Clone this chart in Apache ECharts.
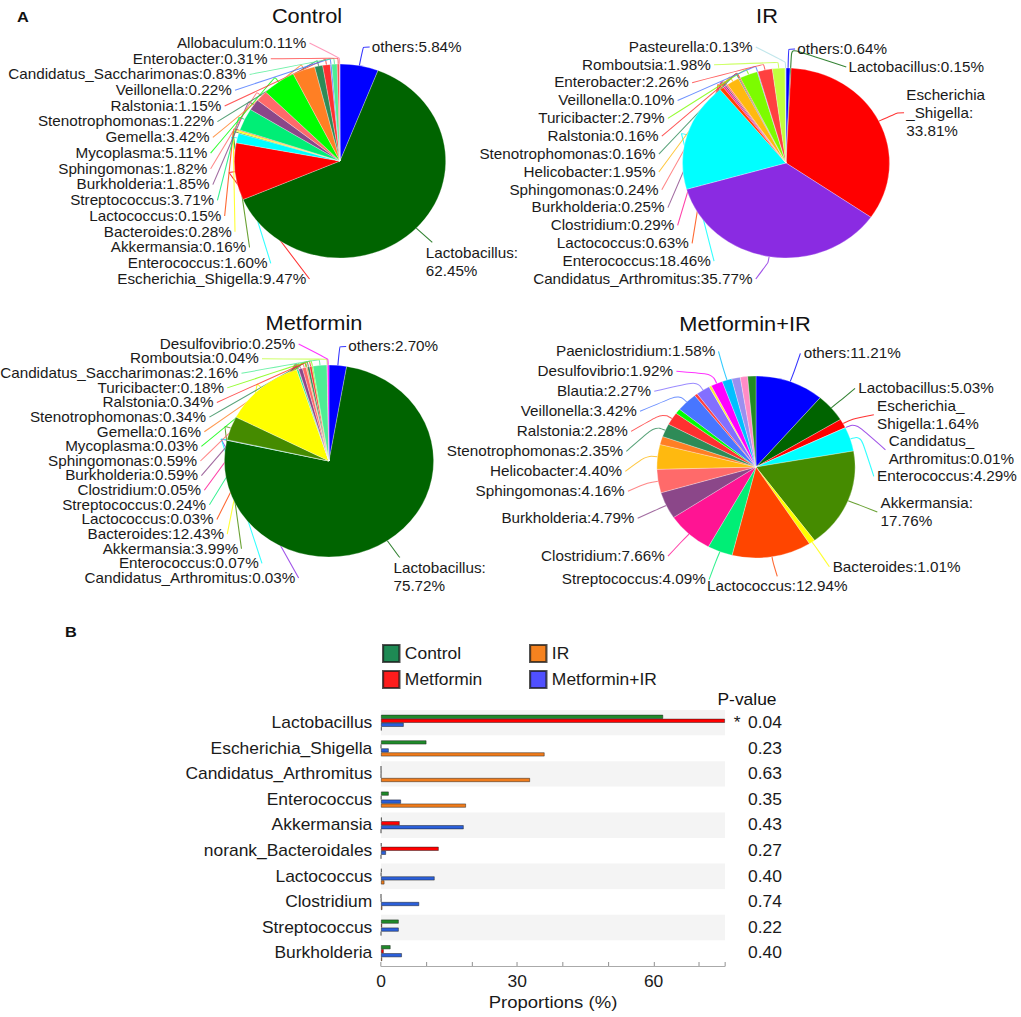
<!DOCTYPE html>
<html><head><meta charset="utf-8">
<script src="https://cdn.jsdelivr.net/npm/echarts/dist/echarts.min.js"></script>
<style>
html,body{margin:0;padding:0;background:#fff;overflow:hidden;}
#wrap{width:1021px;height:1017px;overflow:hidden;}
#c{width:937px;height:1017px;transform:scaleX(1.08965);transform-origin:0 0;}
</style></head><body><div id="wrap"><div id="c"></div></div>
<script>
// ---------------- DATA ----------------
const controlNames = ['others','Lactobacillus','Escherichia_Shigella','Enterococcus','Akkermansia','Bacteroides','Lactococcus','Streptococcus','Burkholderia','Sphingomonas','Mycoplasma','Gemella','Stenotrophomonas','Ralstonia','Veillonella','Candidatus_Saccharimonas','Enterobacter','Allobaculum'];
const controlValues = [5.84,62.45,9.47,1.60,0.16,0.28,0.15,3.71,1.85,1.82,5.11,3.42,1.22,1.15,0.22,0.83,0.31,0.11];

const irNames = ['others','Lactobacillus','Escherichia_Shigella','Candidatus_Arthromitus','Enterococcus','Lactococcus','Clostridium','Burkholderia','Sphingomonas','Helicobacter','Stenotrophomonas','Ralstonia','Turicibacter','Veillonella','Enterobacter','Romboutsia','Pasteurella'];
const irValues = [0.64,0.15,33.81,35.77,18.46,0.63,0.29,0.25,0.24,1.95,0.16,0.16,2.79,0.10,2.26,1.98,0.13];

const metNames = ['others','Lactobacillus','Candidatus_Arthromitus','Enterococcus','Akkermansia','Bacteroides','Lactococcus','Streptococcus','Clostridium','Burkholderia','Sphingomonas','Mycoplasma','Gemella','Stenotrophomonas','Ralstonia','Turicibacter','Candidatus_Saccharimonas','Romboutsia','Desulfovibrio'];
const metValues = [2.70,75.72,0.03,0.07,3.99,12.43,0.03,0.24,0.05,0.59,0.59,0.03,0.16,0.34,0.34,0.18,2.16,0.04,0.25];

const mirNames = ['others','Lactobacillus','Escherichia_Shigella','Candidatus_Arthromitus','Enterococcus','Akkermansia','Bacteroides','Lactococcus','Streptococcus','Clostridium','Burkholderia','Sphingomonas','Helicobacter','Gemella','Stenotrophomonas','Ralstonia','Mycoplasma','Veillonella','Enterobacter','Blautia','unlabeled_1','Desulfovibrio','Paeniclostridium','unlabeled_2','unlabeled_3','unlabeled_4'];
const mirValues = [11.21,5.03,1.64,0.01,4.29,17.76,1.01,12.94,4.09,7.66,4.79,4.16,4.40,1.45,2.35,2.28,0.90,3.42,0.50,2.27,0.40,1.92,1.58,1.40,1.20,1.34];
const mirUnlabeled = ['Gemella','Mycoplasma','Enterobacter','unlabeled_1','unlabeled_2','unlabeled_3','unlabeled_4'];

const barCategories = ['Lactobacillus','Escherichia_Shigella','Candidatus_Arthromitus','Enterococcus','Akkermansia','norank_Bacteroidales','Lactococcus','Clostridium','Streptococcus','Burkholderia'];
const barControl   = [62.1, 10.0, 0,    1.7,  0.16, 0.1,  0.15, 0,    3.9,  2.1];
const barMetformin = [75.7, 0,    0.03, 0.07, 4.1,  12.7, 0.03, 0.05, 0.24, 0.6];
const barMetIR     = [5.0,  1.7,  0.01, 4.4,  18.2, 1.1,  11.8, 8.4,  3.9,  4.6];
const barIR        = [0.15, 36.0, 32.8, 18.7, 0,    0,    0.75, 0.3,  0,    0.25];
const pValues = ['0.04','0.23','0.63','0.35','0.43','0.27','0.40','0.74','0.22','0.40'];
const pStars  = ['*','','','','','','','','',''];
const xTickLabels = [0, 30, 60];

// ---------------- STYLE ----------------
const W = 937, H = 1017;
const SX = 1021 / W;
const FONT = 'Liberation Sans, Arial, Helvetica, sans-serif';
const CFONT = "'Liberation Sans', Arial, Helvetica, sans-serif";
const LABEL_SIZE = 14;
const genusColor = {
  others:'#0000ff', Lactobacillus:'#006400', Escherichia_Shigella:'#ff0000', Enterococcus:'#00ffff',
  Candidatus_Arthromitus:'#8a2be2', Akkermansia:'#458b00', Bacteroides:'#ffff00', Lactococcus:'#ff4500',
  Streptococcus:'#00ee76', Clostridium:'#ff1493', Burkholderia:'#8b4789', Sphingomonas:'#ff6a6a',
  Helicobacter:'#ffb90f', Mycoplasma:'#00ff00', Gemella:'#ff7f24', Stenotrophomonas:'#2e8b57',
  Ralstonia:'#ff3030', Veillonella:'#4876ff', Candidatus_Saccharimonas:'#4eee94', Enterobacter:'#ff4040',
  Allobaculum:'#ff82ab', Turicibacter:'#7cfc00', Romboutsia:'#c0ff3e', Pasteurella:'#b0e0e6',
  Desulfovibrio:'#ff00ff', Blautia:'#836fff', Paeniclostridium:'#00bfff',
  unlabeled_1:'#ffee33', unlabeled_2:'#9a8ff0', unlabeled_3:'#ff8cc6', unlabeled_4:'#228b22'
};

const pies = [
  {title:'Control', names:controlNames, values:controlValues, cx:340, cy:161, r:97, mode:'column',
   breaks:{Lactobacillus:'Lactobacillus:\n'}},
  {title:'IR', names:irNames, values:irValues, cx:786, cy:163, r:95, mode:'column',
   breaks:{Escherichia_Shigella:'Escherichia\n_Shigella:\n'}},
  {title:'Metformin', names:metNames, values:metValues, cx:329, cy:461, r:96, mode:'column',
   breaks:{Lactobacillus:'Lactobacillus:\n'}},
  {title:'Metformin+IR', names:mirNames, values:mirValues, cx:756, cy:467, r:91, mode:'spread', hidden:mirUnlabeled,
   breaks:{Escherichia_Shigella:'Escherichia_\nShigella:', Candidatus_Arthromitus:'Candidatus_\nArthromitus:', Akkermansia:'Akkermansia:\n'}}
];

const mctx = document.createElement('canvas').getContext('2d');
function textW(s) {
  mctx.font = LABEL_SIZE + 'px ' + CFONT;
  return Math.max.apply(null, s.split('\n').map(l => mctx.measureText(l).width));
}

function labelText(p, i) {
  const name = p.names[i];
  const pre = (p.breaks && p.breaks[name]) || (name + ':');
  return pre + p.values[i].toFixed(2) + '%';
}

function computeLayout(p) {
  const n = p.values.length;
  const total = p.values.reduce((a, b) => a + b, 0);
  const cx = p.cx / SX, cy = p.cy, r = p.r;
  const maxRight = (1017 / SX);
  const th = []; let cum = 0;
  for (const v of p.values) { th.push(2 * Math.PI * (cum + v / 2) / total); cum += v; }
  const pt = (t, rad) => [cx + rad * Math.sin(t), cy - rad * Math.cos(t)];
  const shown = i => !(p.hidden && p.hidden.includes(p.names[i]));
  const nLines = i => labelText(p, i).split('\n').length;
  const out = new Array(n).fill(null);
  const left = [], right = [];
  for (let i = 0; i < n; i++) { if (!shown(i)) continue; (th[i] >= Math.PI ? left : right).push(i); }

  if (p.mode === 'column') {
    const S = r + 21, a = r + 25, b = S + 4, N = left.length;
    left.forEach((i, k) => {
      const y = cy + S - k * (2 * S / (N - 1));
      const dy = y - cy;
      const x = cx - a * Math.sqrt(Math.max(0, 1 - (dy / b) * (dy / b)));
      out[i] = {x, y, align:'right', verticalAlign:'middle',
        labelLinePoints:[pt(th[i], r), pt(th[i], r + 6), [x + 3, y]]};
    });
    let prevBottom = -1e9, prevX = -1e9;
    right.forEach(i => {
      const an = pt(th[i], r + 19);
      const h = nLines(i) * 17;
      if (an[1] < cy) {
        const pushed = prevBottom + h / 2 + 1 > an[1];
        const y = Math.max(an[1], prevBottom + h / 2 + 1);
        let x = an[0] + 8;
        if (pushed) x = Math.max(x, prevX + 47);
        x = Math.min(x, maxRight - textW(labelText(p, i)));
        prevBottom = y + h / 2; prevX = x;
        out[i] = {x, y, align:'left', verticalAlign:'middle',
          labelLinePoints:[pt(th[i], r), an, [x - 2, y]]};
      } else {
        out[i] = {x: an[0] - 5, y: an[1] + 3, align:'left', verticalAlign:'top',
          labelLinePoints:[pt(th[i], r), an, [an[0] + 1, an[1] + 1]]};
      }
    });
  } else {
    const RL = r + 30;
    const xOn = (y, side) => { const dy = Math.min(Math.abs(y - cy), RL); return cx + side * Math.sqrt(RL * RL - dy * dy); };
    const place = (list, side) => {
      const items = [];
      list.forEach(i => {
        if (Math.abs(Math.sin(th[i])) < 0.2) {
          const an = pt(th[i], RL);
          out[i] = {x: an[0], y: an[1], align:'center', verticalAlign:'middle',
            labelLinePoints:[pt(th[i], r), pt(th[i], r + 6), [an[0], an[1] - 10]]};
        } else {
          items.push({i, y0: pt(th[i], RL)[1], h: nLines(i) * (side < 0 ? 18 : 17)});
        }
      });
      items.sort((A, B) => A.y0 - B.y0);
      let prevBottom = -1e9;
      items.forEach(o => {
        const gap = side < 0 ? 2 : 1;
        const y = Math.max(o.y0, prevBottom + o.h / 2 + gap);
        prevBottom = y + o.h / 2;
        let x = xOn(y, side) + side * 2;
        if (side > 0) x = Math.min(x, maxRight - textW(labelText(p, o.i)));
        out[o.i] = {x, y, align: side < 0 ? 'right' : 'left', verticalAlign:'middle',
          labelLinePoints:[pt(th[o.i], r), pt(th[o.i], r + 10), [x - side * 3, y]]};
      });
    };
    place(left, -1);
    place(right, 1);
  }
  return out;
}

const pieSeries = pies.map(p => {
  const layout = computeLayout(p);
  const shown = n => !(p.hidden && p.hidden.includes(n));
  return {
    type:'pie', center:[p.cx / SX, p.cy], radius:p.r, startAngle:90, clockwise:true,
    avoidLabelOverlap:false, animation:false, silent:true,
    data: p.names.map((n, i) => ({name:n, value:p.values[i], itemStyle:{color:genusColor[n]},
      label:{show:shown(n)}, labelLine:{show:shown(n)}})),
    itemStyle:{borderColor:'rgba(255,255,255,0.55)', borderWidth:0.5},
    label:{show:true, position:'outside', formatter: prm => labelText(p, prm.dataIndex),
      fontSize:LABEL_SIZE, lineHeight:18, color:'#1a1a1a', fontFamily:FONT},
    labelLine:{show:true, length:10, length2:10, smooth: p.mode === 'spread' ? 0.4 : 0.15,
      lineStyle:{width:1, opacity:0.8}},
    labelLayout: prm => { const o = layout[prm.dataIndex]; return o ? Object.assign({}, o) : {}; },
    emphasis:{disabled:true}
  };
});

const barStyle = c => ({color:c, borderColor:'rgba(25,25,25,0.75)', borderWidth:0.6});
const barSeries = [
  {name:'Control', data:barControl, color:'#1f8a2a'},
  {name:'Metformin', data:barMetformin, color:'#ff0000'},
  {name:'Metformin+IR', data:barMetIR, color:'#2b5fd9'},
  {name:'IR', data:barIR, color:'#f07c1c'}
].map(s => ({type:'bar', name:s.name, data:s.data, xAxisIndex:0, yAxisIndex:0, barWidth:4, barGap:'0%',
  itemStyle:barStyle(s.color), animation:false, silent:true}));

const txt = (text, x, y, size, weight) => ({type:'text', x:x / SX, y:y, silent:true,
  style:{text, fontSize:size, fontWeight:weight || 'normal', fontFamily:FONT, fill:'#111',
    align:'center', verticalAlign:'middle', textAlign:'center', textVerticalAlign:'middle'}});

const legendBase = {orient:'vertical', top:644, itemWidth:15, itemHeight:17, itemGap:7, padding:0,
  icon:'rect', selectedMode:false, textStyle:{fontSize:16, color:'#1a1a1a', fontFamily:FONT}};

const option = {
  animation:false,
  backgroundColor:'#ffffff',
  textStyle:{fontFamily:FONT},
  graphic:[
    txt('A', 23, 17, 15, 'bold'),
    txt('B', 71, 632, 15, 'bold'),
    txt('Control', 307, 16, 20),
    txt('IR', 767, 16, 20),
    txt('Metformin', 314, 323, 20),
    txt('Metformin+IR', 745, 324, 20),
    txt('P-value', 747, 700, 16)
  ],
  legend:[
    Object.assign({}, legendBase, {left:382 / SX, data:[{name:'Control', itemStyle:{color:'#1e8a54'}}, {name:'Metformin', itemStyle:{color:'#ff1c1c'}}]}),
    Object.assign({}, legendBase, {left:529 / SX, data:[{name:'IR', itemStyle:{color:'#f5821f'}}, {name:'Metformin+IR', itemStyle:{color:'#5050ff'}}]})
  ],
  grid:[{left:381 / SX, top:710, width:(725 - 381) / SX, height:256, containLabel:false, outerBoundsMode:'none'}],
  xAxis:[{type:'value', gridIndex:0, min:0, max:75.72, interval:10,
    axisLine:{show:true, lineStyle:{color:'#aaaaaa', width:1}},
    axisTick:{show:true, inside:true, length:4, lineStyle:{color:'#999999'}},
    splitLine:{show:false},
    axisLabel:{formatter: v => xTickLabels.includes(v) ? String(v) : '', fontSize:16, color:'#1a1a1a', margin:8, showMaxLabel:true, hideOverlap:false},
    name:'Proportions (%)', nameLocation:'middle', nameGap:28,
    nameTextStyle:{fontSize:17, color:'#1a1a1a', verticalAlign:'top'}}],
  yAxis:[
    {type:'category', gridIndex:0, data:barCategories, inverse:true,
      axisLine:{show:false}, axisTick:{show:false}, splitLine:{show:false},
      splitArea:{show:true, areaStyle:{color:['#f4f4f4', '#ffffff']}},
      axisLabel:{fontSize:16, color:'#1a1a1a', margin:8, interval:0}},
    {type:'category', gridIndex:0, data:barCategories, inverse:true, position:'right',
      axisLine:{show:false}, axisTick:{show:false}, splitLine:{show:false}, splitArea:{show:false},
      axisLabel:{interval:0, fontSize:16, color:'#1a1a1a', margin:(782 - 725) / SX, align:'right',
        formatter:(v, idx) => (pStars[idx] ? '{s|' + pStars[idx] + '}' : '') + pValues[idx],
        rich:{s:{fontSize:16, color:'#1a1a1a', padding:[0, 7, 0, 0]}}}}
  ],
  series: pieSeries.concat(barSeries)
};

const chart = echarts.init(document.getElementById('c'), null, {renderer:'svg', width:W, height:H});
chart.setOption(option);
</script>
</body></html>
